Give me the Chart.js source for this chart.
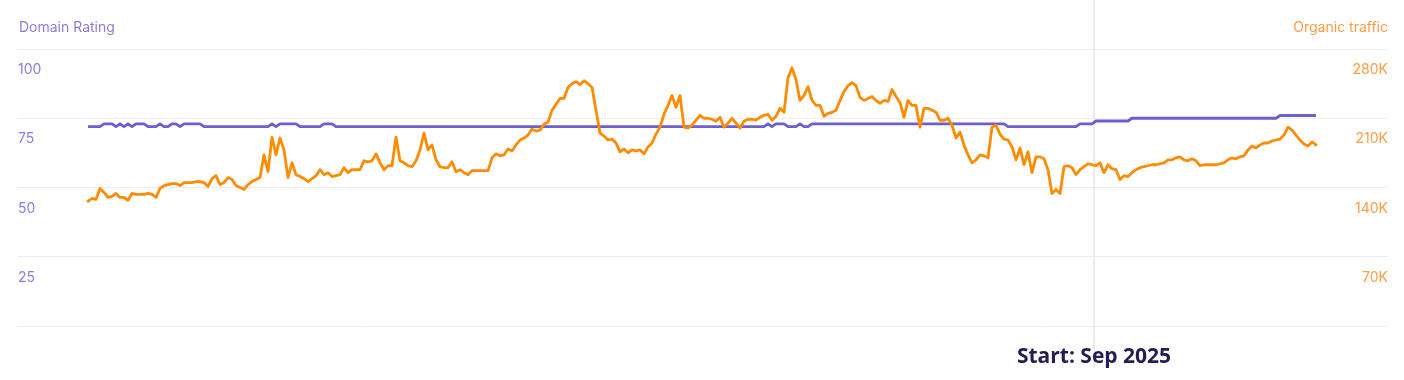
<!DOCTYPE html>
<html>
<head>
<meta charset="utf-8">
<script src="https://cdn.jsdelivr.net/npm/chart.js@4.4.1/dist/chart.umd.min.js"></script>
<style>
html,body{margin:0;padding:0;background:#ffffff;}
#wrap{position:relative;width:1404px;height:380px;overflow:hidden;background:#fff;}
#wrap canvas{position:absolute;left:0;top:0;}
.axis-title{position:absolute;top:18px;font:14px Inter, 'Noto Sans', sans-serif;line-height:18px;white-space:nowrap;z-index:2;}
#dr-title{left:19px;color:#8a80dc;}
#ot-title{right:16px;color:#ff9d47;}
#start-label{position:absolute;top:342px;left:1094px;font:700 21px 'Open Sans','Noto Sans',sans-serif;color:#231d54;transform:translateX(-50%);white-space:nowrap;line-height:26px;z-index:2;}
</style>
</head>
<body>
<div id="wrap">
  <canvas id="chart" width="1404" height="380"></canvas>
  <div class="axis-title" id="dr-title">Domain Rating</div>
  <div class="axis-title" id="ot-title">Organic traffic</div>
  <div id="start-label">Start: Sep 2025</div>
</div>
<script>
// ---- data (one sample every ~4 px along the time axis) ----
const seriesNames = ['Domain Rating', 'Organic traffic'];

// Organic traffic, thousands of visits
const organicTraffic = [
  126,129,128,139,135,130,131,134,130,130,
  127,134,133,133,133,134,133,130,139,142,
  143,144,144,142,145,145,145,146,146,145,
  141,149,152,143,145,150,148,142,140,138,
  143,146,148,150,173,156,191,173,190,178,
  150,165,153,151,149,146,149,152,158,153,
  155,151,152,153,160,155,158,158,158,167,
  166,167,174,165,158,162,162,191,167,165,
  162,161,167,178,195,178,183,168,161,160,
  160,166,156,158,155,153,157,157,157,157,
  157,170,174,172,173,179,177,183,188,190,
  193,199,197,198,204,206,218,224,230,230,
  241,245,247,244,248,245,241,218,195,192,
  188,189,185,176,179,175,178,177,178,174,
  181,185,194,201,214,223,233,221,233,201,
  200,203,208,213,210,210,209,207,211,201,
  205,210,205,200,207,209,209,208,211,213,
  214,208,212,220,216,251,261,249,228,233,
  242,228,223,223,212,215,216,218,228,237,
  243,246,243,231,228,230,232,228,225,228,
  227,239,232,226,211,228,223,223,201,220,
  220,218,216,208,208,210,203,190,196,183,
  173,165,168,173,172,170,201,203,194,189,
  188,181,168,180,163,176,155,171,171,169,
  158,134,138,134,161,162,160,153,158,161,
  164,163,162,165,155,163,159,158,148,152,
  151,155,158,160,161,162,163,163,164,165,
  168,168,170,171,168,167,169,167,162,163,
  163,163,163,164,165,168,170,169,171,172,
  178,182,180,183,185,185,187,188,189,193,
  201,198,193,188,184,182,186,183
];

// Domain Rating
const domainRating = [
  72,72,72,72,73,73,73,72,73,72,
  73,72,73,73,73,72,72,72,73,72,
  72,73,73,72,73,73,73,73,73,72,
  72,72,72,72,72,72,72,72,72,72,
  72,72,72,72,72,72,73,72,73,73,
  73,73,73,72,72,72,72,72,72,73,
  73,73,72,72,72,72,72,72,72,72,
  72,72,72,72,72,72,72,72,72,72,
  72,72,72,72,72,72,72,72,72,72,
  72,72,72,72,72,72,72,72,72,72,
  72,72,72,72,72,72,72,72,72,72,
  72,72,72,72,72,72,72,72,72,72,
  72,72,72,72,72,72,72,72,72,72,
  72,72,72,72,72,72,72,72,72,72,
  72,72,72,72,72,72,72,72,72,72,
  72,72,72,72,72,72,72,72,72,72,
  72,72,72,72,72,72,72,72,72,72,
  73,72,73,73,73,72,72,72,73,72,
  72,73,73,73,73,73,73,73,73,73,
  73,73,73,73,73,73,73,73,73,73,
  73,73,73,73,73,73,73,73,73,73,
  73,73,73,73,73,73,73,73,73,73,
  73,73,73,73,73,73,73,73,73,73,
  72,72,72,72,72,72,72,72,72,72,
  72,72,72,72,72,72,72,72,73,73,
  73,73,74,74,74,74,74,74,74,74,
  74,75,75,75,75,75,75,75,75,75,
  75,75,75,75,75,75,75,75,75,75,
  75,75,75,75,75,75,75,75,75,75,
  75,75,75,75,75,75,75,75,76,76,
  76,76,76,76,76,76,76,76
];

// axis ticks
const drTicks = [0, 25, 50, 75, 100];
const trafficTicks = [0, 70, 140, 210, 280];   // thousands

// annotation: position (sample index) of the "Start" marker
const startIndex = 251.5;
const startLabel = 'Start: Sep 2025';

// ---- chart ----
const toPoints = arr => arr.map((v, i) => ({ x: i, y: v }));

const startLinePlugin = {
  id: 'startLine',
  beforeDatasetsDraw(chart) {
    const x = chart.scales.x.getPixelForValue(startIndex);
    const ctx = chart.ctx;
    ctx.save();
    ctx.strokeStyle = '#ebebf0';
    ctx.lineWidth = 2;
    ctx.beginPath();
    ctx.moveTo(x, 0);
    ctx.lineTo(x, 368);
    ctx.stroke();
    ctx.restore();
  },
  afterDraw(chart) {
    const x = chart.scales.x.getPixelForValue(startIndex);
    const el = document.getElementById('start-label');
    el.textContent = startLabel;
    el.style.left = x + 'px';
  }
};

new Chart(document.getElementById('chart'), {
  type: 'line',
  data: {
    datasets: [
      {
        label: seriesNames[1],
        data: toPoints(organicTraffic),
        yAxisID: 'yTraffic',
        borderColor: '#ff8c00',
        borderWidth: 2.8,
        pointRadius: 0,
        tension: 0,
        borderJoinStyle: 'round',
        borderCapStyle: 'round',
        order: 0
      },
      {
        label: seriesNames[0],
        data: toPoints(domainRating),
        yAxisID: 'yDR',
        borderColor: '#6c5fd0',
        borderWidth: 2.8,
        pointRadius: 0,
        tension: 0,
        borderJoinStyle: 'round',
        order: 1
      }
    ]
  },
  options: {
    responsive: false,
    animation: false,
    layout: { padding: { top: 49, bottom: 54, left: 18, right: 16 } },
    plugins: { legend: { display: false }, tooltip: { enabled: false } },
    scales: {
      x: {
        type: 'linear',
        display: false,
        min: -17.5,
        max: 325
      },
      yDR: {
        type: 'linear',
        position: 'left',
        min: drTicks[0],
        max: drTicks[drTicks.length - 1],
        afterBuildTicks: s => { s.ticks = drTicks.map(v => ({ value: v })); },
        border: { display: false },
        grid: { color: '#ededf1', lineWidth: 1, drawTicks: false },
        ticks: {
          mirror: true,
          padding: 0,
          labelOffset: 21,
          color: '#8a80dc',
          font: { family: 'Inter', size: 14 },
          callback: v => (v === 0 ? '' : String(v))
        }
      },
      yTraffic: {
        type: 'linear',
        position: 'right',
        min: trafficTicks[0],
        max: trafficTicks[trafficTicks.length - 1],
        afterBuildTicks: s => { s.ticks = trafficTicks.map(v => ({ value: v })); },
        border: { display: false },
        grid: { display: false, drawTicks: false },
        ticks: {
          mirror: true,
          padding: 0,
          labelOffset: 21,
          color: '#ff9d47',
          font: { family: 'Inter', size: 14 },
          callback: v => (v === 0 ? '' : v + 'K')
        }
      }
    }
  },
  plugins: [startLinePlugin]
});
</script>
</body>
</html>
